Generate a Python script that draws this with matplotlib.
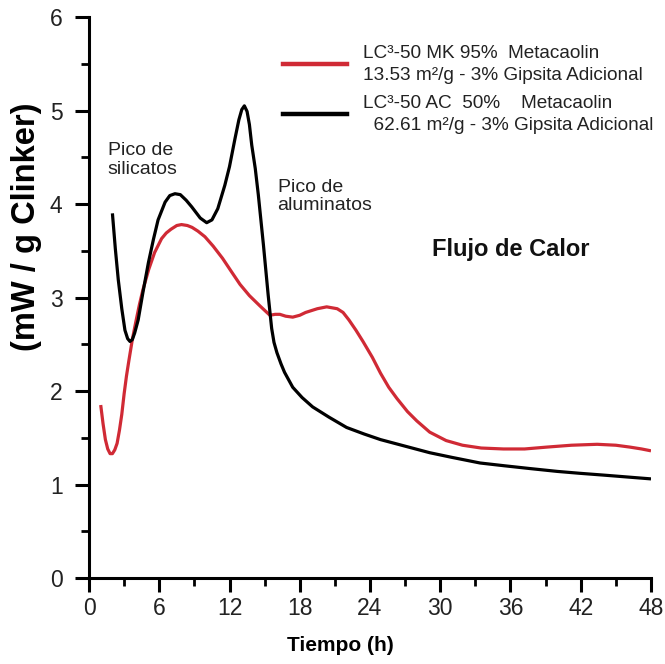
import matplotlib
matplotlib.use("Agg")
import matplotlib.pyplot as plt
from matplotlib.lines import Line2D
from matplotlib.ticker import MultipleLocator

# ---- data ----
t_mk = [1.0, 1.2, 1.4, 1.6, 1.8, 2.0, 2.2, 2.4, 2.6, 2.8, 3.0, 3.2, 3.4, 3.7, 4.0, 4.3,
        4.6, 5.1, 5.6, 6.2, 6.6, 7.0, 7.5, 7.9, 8.4, 8.8, 9.3, 9.9, 10.6, 11.4, 12.2,
        12.9, 13.7, 14.6, 15.45, 15.9, 16.3, 16.8, 17.4, 18.0, 18.5, 19.5, 20.3, 21.2,
        21.7, 22.2, 22.8, 23.4, 24.2, 24.9, 25.6, 26.3, 27.2, 28.0, 29.1, 30.5, 31.9,
        33.5, 35.4, 37.2, 39.1, 41.2, 43.4, 45.0, 46.2, 47.2, 48.0]
q_mk = [1.85, 1.65, 1.48, 1.38, 1.33, 1.33, 1.37, 1.44, 1.58, 1.75, 1.97, 2.16, 2.32,
        2.55, 2.74, 2.92, 3.08, 3.30, 3.48, 3.63, 3.69, 3.73, 3.77, 3.78, 3.77, 3.75,
        3.71, 3.65, 3.55, 3.42, 3.27, 3.14, 3.02, 2.91, 2.81, 2.82, 2.82, 2.80, 2.79,
        2.81, 2.84, 2.88, 2.90, 2.88, 2.84, 2.76, 2.65, 2.53, 2.36, 2.19, 2.04, 1.92,
        1.78, 1.68, 1.56, 1.47, 1.42, 1.39, 1.38, 1.38, 1.40, 1.42, 1.43, 1.42, 1.40,
        1.38, 1.36]

t_ac = [2.0, 2.25, 2.5, 2.8, 3.07, 3.3, 3.5, 3.7, 3.9, 4.2, 4.6, 5.07, 5.5, 5.9, 6.5,
        6.9, 7.34, 7.8, 8.3, 8.77, 9.5, 10.05, 10.5, 11.0, 11.6, 12.0, 12.47, 12.8,
        13.05, 13.27, 13.5, 13.7, 13.9, 14.2, 14.46, 14.9, 15.3, 15.6, 15.8, 16.05,
        16.4, 16.7, 17.4, 18.2, 19.1, 20.5, 22.0, 23.5, 24.9, 27.0, 29.1, 31.0, 33.4,
        35.5, 37.7, 40.0, 41.9, 44.0, 46.0, 48.0]
q_ac = [3.90, 3.52, 3.19, 2.88, 2.65, 2.56, 2.53, 2.55, 2.62, 2.76, 3.05, 3.37, 3.62,
        3.83, 4.02, 4.09, 4.11, 4.10, 4.04, 3.97, 3.85, 3.80, 3.83, 3.95, 4.20, 4.40,
        4.70, 4.90, 5.01, 5.05, 4.99, 4.85, 4.63, 4.38, 4.10, 3.56, 3.03, 2.67, 2.52,
        2.41, 2.29, 2.20, 2.04, 1.93, 1.83, 1.72, 1.61, 1.54, 1.48, 1.41, 1.34, 1.29,
        1.23, 1.20, 1.17, 1.14, 1.12, 1.10, 1.08, 1.06]

labels = ["LC³-50 MK 95%  Metacaolin\n13.53 m²/g - 3% Gipsita Adicional",
          "LC³-50 AC  50%    Metacaolin\n  62.61 m²/g - 3% Gipsita Adicional"]
x_ticks = [0, 6, 12, 18, 24, 30, 36, 42, 48]
y_ticks = [0, 1, 2, 3, 4, 5, 6]

RED = "#d02a35"
BLACK = "#000000"

plt.rcParams["font.family"] = ["Liberation Sans", "DejaVu Sans"]

fig = plt.figure(figsize=(6.65, 6.64), dpi=100)
ax = fig.add_axes([89 / 665, 1 - 578 / 664, 562 / 665, 561 / 664])

ax.plot(t_mk, q_mk, color=RED, lw=2.3, solid_capstyle="butt", solid_joinstyle="round")
ax.plot(t_ac, q_ac, color=BLACK, lw=2.3, solid_capstyle="butt", solid_joinstyle="round")

ax.set_xlim(0, 48)
ax.set_ylim(0, 6)
ax.set_xticks(x_ticks)
ax.set_yticks(y_ticks)
ax.xaxis.set_minor_locator(MultipleLocator(3))
ax.yaxis.set_minor_locator(MultipleLocator(0.5))

for s in ["top", "right"]:
    ax.spines[s].set_visible(False)
for s in ["left", "bottom"]:
    ax.spines[s].set_linewidth(2.2)
    ax.spines[s].set_capstyle("projecting")

ax.tick_params(which="major", direction="out", length=10, width=2.2,
               labelsize=16.5, color="black", labelcolor="#222222")
ax.tick_params(which="minor", direction="out", length=5.5, width=2.0)
ax.tick_params(axis="x", which="major", pad=4)
ax.tick_params(axis="y", which="major", pad=9)

ax.set_xlabel("Tiempo (h)", fontsize=15, fontweight="bold")
ax.xaxis.set_label_coords(0.448, -0.104)
ax.set_ylabel("(mW / g Clinker)", fontsize=23.5, fontweight="bold")
ax.yaxis.set_label_coords(-0.083, 0.626)

ax.text(1.6, 4.66, "Pico de\nsilicatos", fontsize=14, ha="left", va="top",
        color="#222222", linespacing=1.1)
ax.text(16.1, 4.27, "Pico de\naluminatos", fontsize=14, ha="left", va="top",
        color="#222222", linespacing=1.1)
ax.text(29.3, 3.51, "Flujo de Calor", fontsize=17, fontweight="bold",
        ha="left", va="center", color="#111111")

handles = [Line2D([], [], color=RED, lw=3.2), Line2D([], [], color=BLACK, lw=3.2)]
leg = ax.legend(handles, labels, loc="upper left",
                bbox_to_anchor=(283 / 665, 1 - 45 / 664),
                bbox_transform=fig.transFigure, frameon=False,
                fontsize=13.7, handlelength=3.35, handletextpad=0.85,
                borderpad=0, borderaxespad=0, labelspacing=0.55)
for txt in leg.get_texts():
    txt.set_linespacing(1.4)
    txt.set_color("#222222")

fig.savefig("out.png", dpi=100)
